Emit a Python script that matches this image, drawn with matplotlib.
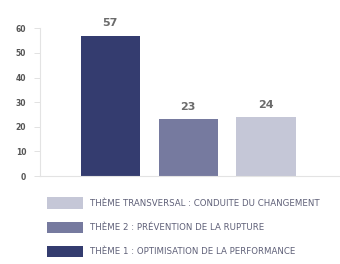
import matplotlib.pyplot as plt
from matplotlib.patches import Patch

# Données du graphique
categories = ["Thème 1", "Thème 2", "Thème transversal"]
values = [57, 23, 24]
colors = ["#343C6F", "#767A9F", "#C5C7D7"]
legend_labels = [
    "THÈME 1 : OPTIMISATION DE LA PERFORMANCE",
    "THÈME 2 : PRÉVENTION DE LA RUPTURE",
    "THÈME TRANSVERSAL : CONDUITE DU CHANGEMENT",
]
yticks = [0, 10, 20, 30, 40, 50, 60]

fig = plt.figure(figsize=(3.4, 2.64), dpi=100)
ax = fig.add_axes([0.118, 0.333, 0.882, 0.56])

x = range(len(categories))
bars = ax.bar(x, values, width=0.76, color=colors)

for rect, v in zip(bars, values):
    ax.text(rect.get_x() + rect.get_width() / 2, v + 3, str(v),
            ha='center', va='bottom', fontsize=8, fontweight='bold', color='#6b6b6b')

ax.set_xlim(-0.9, 2.95)
ax.set_ylim(0, 60)
ax.set_yticks(yticks)
ax.set_xticks([])
ax.tick_params(axis='y', labelsize=5.5, colors='#dddddd', labelcolor='#555555',
               length=4, width=0.6, pad=6)
for lab in ax.get_yticklabels():
    lab.set_fontweight('bold')
for side in ['top', 'right']:
    ax.spines[side].set_visible(False)
ax.spines['left'].set_color('#e3e3e3')
ax.spines['bottom'].set_color('#e3e3e3')

# Légende (ordre inversé)
handles = [Patch(facecolor=c) for c in colors]
fig.legend(handles[::-1], legend_labels[::-1], loc='upper left',
           bbox_to_anchor=(0.128, 0.265), frameon=False, fontsize=6.2,
           handlelength=4.2, handleheight=1.65, labelspacing=1.5,
           handletextpad=0.8, borderaxespad=0, labelcolor='#5f6078')

fig.savefig('out.png', dpi=100)
